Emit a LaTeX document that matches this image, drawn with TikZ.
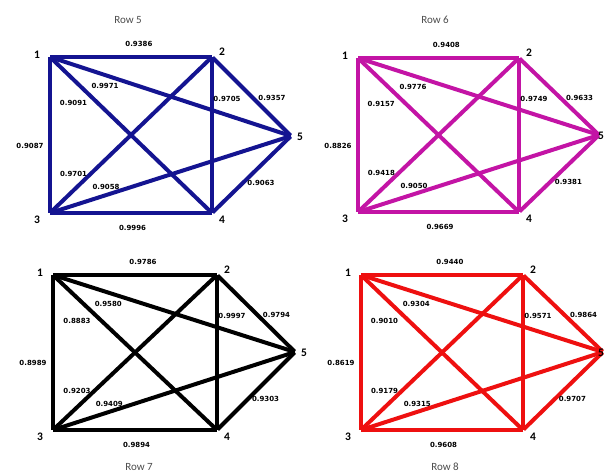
\documentclass[tikz,border=0pt]{standalone}
\usepackage{fontspec}
\setmainfont{Carlito}
\newfontfamily\lblfont{DejaVu Sans}
\usepackage{tikz}

\definecolor{rowblue}{RGB}{20,20,145}
\definecolor{rowpink}{RGB}{195,20,165}
\definecolor{rowred}{RGB}{238,16,16}

\begin{document}
\begin{tikzpicture}[x=1pt,y=-1pt,line width=4pt,line cap=rect,
    vert/.style={inner sep=0pt,minimum size=0pt},
    num/.style={font=\fontsize{11.5}{11.5}\selectfont\bfseries,inner sep=0pt},
    w/.style={font=\lblfont\fontsize{7}{7}\selectfont\bfseries,text=black,inner sep=0pt},
    title/.style={font=\fontsize{11}{11}\selectfont,text=black!70,inner sep=0pt},
    on12/.style={w,pos=.55,shift={(0,-13)}},
    on13/.style={w,pos=.57,shift={(-20,0)}},
    on34/.style={w,pos=.51,shift={(0,15)}},
    on24/.style={w,pos=.26,shift={(15,0)}},
    on25/.style={w,pos=.52,shift={(19,0)}},
    on45/.style={w,pos=.4,shift={(17,1)}},
    on14/.style={w,pos=.25,shift={(-18,6)}},
    on15/.style={w,pos=.224,shift={(0,11)}},
    on32/.style={w,pos=.2,shift={(-10,-7)}},
    on35/.style={w,pos=.228,shift={(0,-8)}}]

  \useasboundingbox[fill=white] (0,0) rectangle (606,474);

  % Row 5
  \begin{scope}[shift={(50,57)}]
    \node[vert] (a1) at (0,0) {};
    \node[vert] (a2) at (162,0) {};
    \node[vert] (a3) at (0,156) {};
    \node[vert] (a4) at (162,156) {};
    \node[vert] (a5) at (241,79) {};
    \node[title] (at) at (78,-37) {Row 5};
    \path[color=rowblue]
      (a1) edge node[on12] {0.9386} (a2)
      (a1) edge node[on13] {0.9087} (a3)
      (a3) edge node[on34] {0.9996} (a4)
      (a2) edge node[on24] {0.9705} (a4)
      (a2) edge node[on25] {0.9357} (a5)
      (a4) edge node[on45] {0.9063} (a5)
      (a1) edge node[on14] {0.9091} (a4)
      (a1) edge node[on15] {0.9971} (a5)
      (a3) edge node[on32] {0.9701} (a2)
      (a3) edge node[on35] {0.9058} (a5);
    \node[num] (a1n) at (-13,-2) {1};
    \node[num] (a2n) at (172,-5) {2};
    \node[num] (a3n) at (-13,163) {3};
    \node[num] (a4n) at (172,163) {4};
    \node[num] (a5n) at (250,80) {5};
  \end{scope}

  % Row 6
  \begin{scope}[shift={(358,58)}]
    \node[vert] (b1) at (0,0) {};
    \node[vert] (b2) at (161,0) {};
    \node[vert] (b3) at (0,154) {};
    \node[vert] (b4) at (161,154) {};
    \node[vert] (b5) at (241,77) {};
    \node[title] (bt) at (77,-38) {Row 6};
    \path[color=rowpink]
      (b1) edge node[on12] {0.9408} (b2)
      (b1) edge node[on13] {0.8826} (b3)
      (b3) edge node[on34] {0.9669} (b4)
      (b2) edge node[on24] {0.9749} (b4)
      (b2) edge node[on25] {0.9633} (b5)
      (b4) edge node[on45] {0.9381} (b5)
      (b1) edge node[on14] {0.9157} (b4)
      (b1) edge node[on15] {0.9776} (b5)
      (b3) edge node[on32] {0.9418} (b2)
      (b3) edge node[on35] {0.9050} (b5);
    \node[num] (b1n) at (-13,-2) {1};
    \node[num] (b2n) at (171,-5) {2};
    \node[num] (b3n) at (-13,161) {3};
    \node[num] (b4n) at (171,161) {4};
    \node[num] (b5n) at (243,78) {5};
  \end{scope}

  % Row 7
  \begin{scope}[shift={(53,275)}]
    \node[vert] (c1) at (0,0) {};
    \node[vert] (c2) at (164,0) {};
    \node[vert] (c3) at (0,155) {};
    \node[vert] (c4) at (164,155) {};
    \node[vert] (c5) at (242,77) {};
    \node[title] (ct) at (86,192) {Row 7};
    \path[color=black]
      (c1) edge node[on12] {0.9786} (c2)
      (c1) edge node[on13] {0.8989} (c3)
      (c3) edge node[on34] {0.9894} (c4)
      (c2) edge node[on24] {0.9997} (c4)
      (c2) edge node[on25] {0.9794} (c5)
      (c4) edge node[on45] {0.9303} (c5)
      (c1) edge node[on14] {0.8883} (c4)
      (c1) edge node[on15] {0.9580} (c5)
      (c3) edge node[on32] {0.9203} (c2)
      (c3) edge node[on35] {0.9409} (c5);
    \node[num] (c1n) at (-13,-2) {1};
    \node[num] (c2n) at (174,-5) {2};
    \node[num] (c3n) at (-13,162) {3};
    \node[num] (c4n) at (174,162) {4};
    \node[num] (c5n) at (251,78) {5};
  \end{scope}

  % Row 8
  \begin{scope}[shift={(361,275)}]
    \node[vert] (d1) at (0,0) {};
    \node[vert] (d2) at (162,0) {};
    \node[vert] (d3) at (0,155) {};
    \node[vert] (d4) at (162,155) {};
    \node[vert] (d5) at (242,77) {};
    \node[title] (dt) at (84,192) {Row 8};
    \path[color=rowred]
      (d1) edge node[on12] {0.9440} (d2)
      (d1) edge node[on13] {0.8619} (d3)
      (d3) edge node[on34] {0.9608} (d4)
      (d2) edge node[on24] {0.9571} (d4)
      (d2) edge node[on25] {0.9864} (d5)
      (d4) edge node[on45] {0.9707} (d5)
      (d1) edge node[on14] {0.9010} (d4)
      (d1) edge node[on15] {0.9304} (d5)
      (d3) edge node[on32] {0.9179} (d2)
      (d3) edge node[on35] {0.9315} (d5);
    \node[num] (d1n) at (-13,-2) {1};
    \node[num] (d2n) at (172,-5) {2};
    \node[num] (d3n) at (-13,162) {3};
    \node[num] (d4n) at (172,162) {4};
    \node[num] (d5n) at (240,78) {5};
  \end{scope}

\end{tikzpicture}
\end{document}
